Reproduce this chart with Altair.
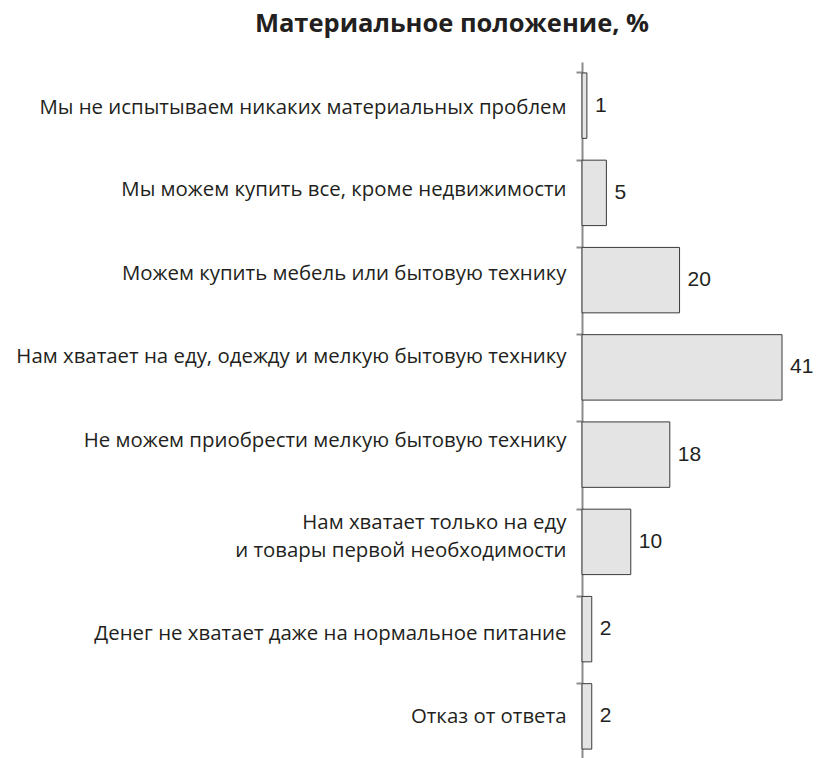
import altair as alt
import pandas as pd

categories = [
    "Мы не испытываем никаких материальных проблем",
    "Мы можем купить все, кроме недвижимости",
    "Можем купить мебель или бытовую технику",
    "Нам хватает на еду, одежду и мелкую бытовую технику",
    "Не можем приобрести мелкую бытовую технику",
    "Нам хватает только на еду\u00a0|и товары первой необходимости",
    "Денег не хватает даже на нормальное питание",
    "Отказ от ответа",
]
values = [1, 5, 20, 41, 18, 10, 2, 2]

# vertical nudges of the category labels, as laid out in the original figure
label_nudge = [2, -3, -6, -10, -14, -19, 5, 1]

df = pd.DataFrame({"cat": categories, "val": values})

offset_cond = {
    "condition": [
        {"test": f"datum.value === {c!r}", "value": n}
        for c, n in zip(categories, label_nudge)
    ],
    "value": 0,
}

y = alt.Y(
    "cat:N",
    sort=categories,
    title=None,
    scale=alt.Scale(paddingInner=0.25, paddingOuter=0.125, range=[0, 698]),
    axis=alt.Axis(
        labelExpr="split(datum.label, '|')",
        labelFont="Open Sans",
        labelFontSize=20.4,
        labelColor="#231f20",
        labelPadding=10,
        labelLimit=700,
        labelLineHeight=28,
        labelOffset=offset_cond,
        domainColor="#8c8c8c",
        domainWidth=2,
        tickColor="#8c8c8c",
        tickWidth=2,
        tickSize=6,
        bandPosition=0,
    ),
)
x = alt.X("val:Q", title=None, scale=alt.Scale(domain=[0, 41], nice=False), axis=None)

bars = alt.Chart(df).mark_bar(
    fill="#e4e4e4", stroke="#3a3a3a", strokeWidth=1
).encode(x=x, y=y)

labels = alt.Chart(df).mark_text(
    align="left", baseline="middle", dx=8, font="Liberation Sans", fontSize=21, color="#231f20"
).encode(x=x, y=y, text="val:Q")

chart = (
    (bars + labels)
    .properties(
        width=200,
        height=680,
        autosize=alt.AutoSizeParams(type="none"),
        padding={"left": 574, "top": 54, "right": 35, "bottom": 16},
        title=alt.TitleParams(
            "Материальное положение, %",
            font="Open Sans",
            fontSize=25.5,
            fontWeight="bold",
            color="#231f20",
            anchor="middle",
            dx=-230,
            offset=25,
        ),
    )
    .configure_view(stroke=None)
)

chart.save("out.html", embed_options={"renderer": "svg", "actions": False})
